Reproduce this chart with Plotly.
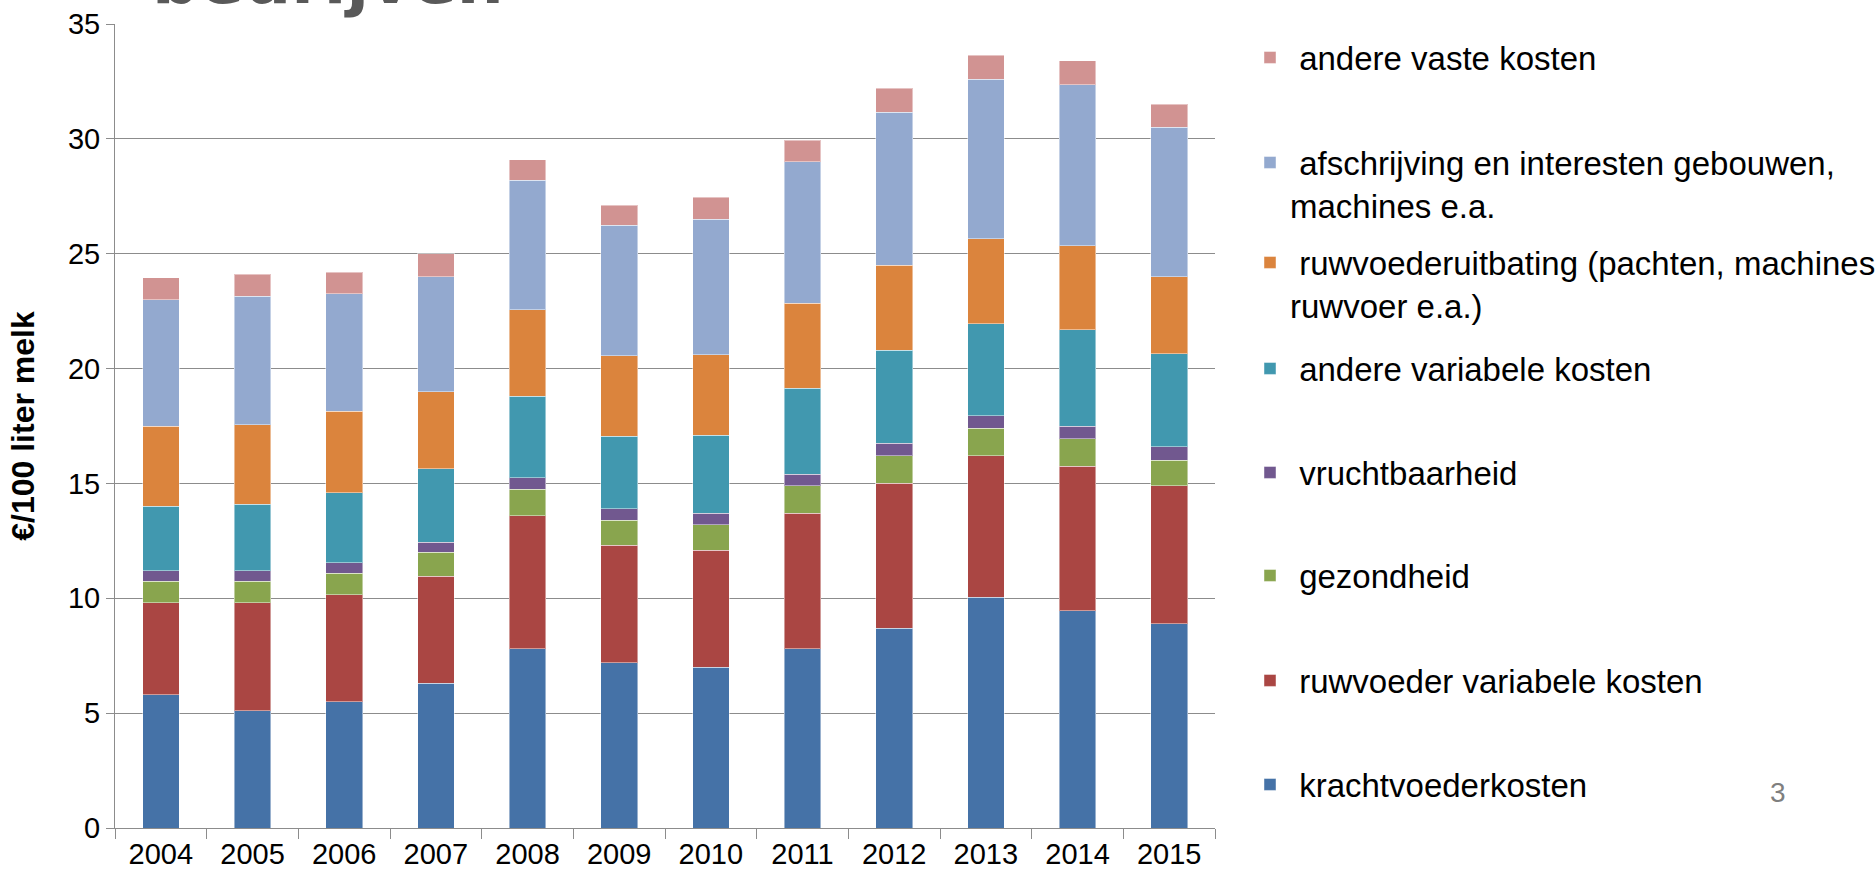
import plotly.graph_objects as go

years = ['2004', '2005', '2006', '2007', '2008', '2009', '2010', '2011', '2012', '2013', '2014', '2015']

krachtvoederkosten = [5.8, 5.1, 5.5, 6.3, 7.8, 7.2, 7.0, 7.8, 8.7, 10.05, 9.45, 8.9]
ruwvoeder_variabel = [4.0, 4.7, 4.65, 4.65, 5.8, 5.1, 5.1, 5.9, 6.3, 6.15, 6.3, 6.0]
gezondheid = [0.95, 0.95, 0.95, 1.05, 1.15, 1.1, 1.1, 1.2, 1.2, 1.2, 1.2, 1.1]
vruchtbaarheid = [0.45, 0.45, 0.45, 0.45, 0.5, 0.5, 0.5, 0.5, 0.55, 0.55, 0.55, 0.6]
andere_variabel = [2.8, 2.9, 3.05, 3.2, 3.55, 3.15, 3.4, 3.75, 4.05, 4.0, 4.2, 4.05]
ruwvoederuitbating = [3.5, 3.45, 3.55, 3.35, 3.75, 3.5, 3.5, 3.7, 3.7, 3.7, 3.65, 3.35]
afschrijving = [5.5, 5.6, 5.1, 5.0, 5.65, 5.7, 5.9, 6.15, 6.65, 6.95, 7.0, 6.5]
andere_vast = [0.95, 0.95, 0.95, 1.0, 0.9, 0.85, 0.95, 0.95, 1.05, 1.05, 1.05, 1.0]

series_names = [
    'krachtvoederkosten',
    'ruwvoeder variabele kosten',
    'gezondheid',
    'vruchtbaarheid',
    'andere variabele kosten',
    'ruwvoederuitbating (pachten, machines<br>ruwvoer e.a.)',
    'afschrijving en interesten gebouwen,<br>machines e.a.',
    'andere vaste kosten',
]
series_values = [krachtvoederkosten, ruwvoeder_variabel, gezondheid, vruchtbaarheid,
                 andere_variabel, ruwvoederuitbating, afschrijving, andere_vast]
colors = ['#4572A7', '#AA4643', '#89A54E', '#71588F', '#4198AF', '#DB843D', '#93A9CF', '#D19392']

W, H = 1875, 880
L, R, T, B = 115, 660, 24, 52
plot_h = H - T - B
plot_w = W - L - R

FONT = 'Liberation Sans, Arial, sans-serif'

fig = go.Figure()
# legend marker centres (pixels from top), bottom series first
legend_centres = [786, 682, 577, 474, 370, 264, 164, 59]
off = 29.5
layout_legends = {}
for i, (name, vals, col) in enumerate(zip(series_names, series_values, colors)):
    lname = 'legend' if i == 0 else f'legend{i + 1}'
    fig.add_trace(go.Bar(
        x=years, y=vals, name='\u00a0' + name, legend=lname,
        marker=dict(color=col, line=dict(width=1, color='rgba(255,255,255,0.45)')),
    ))
    ypx = legend_centres[i] - off
    layout_legends[lname] = dict(
        x=(1250 - L) / plot_w, xanchor='left',
        y=(H - B - ypx) / plot_h, yanchor='top',
        font=dict(family=FONT, size=33, color='#000000'),
        bgcolor='rgba(0,0,0,0)', valign='top', borderwidth=0,
    )

fig.update_layout(
    barmode='stack',
    bargap=0.6,
    width=W, height=H,
    margin=dict(l=L, r=R, t=T, b=B, pad=0, autoexpand=False),
    paper_bgcolor='white', plot_bgcolor='white',
    font=dict(family=FONT, color='#000000'),
    showlegend=True,
    **layout_legends,
)

axis_col = '#8c8c8c'
fig.update_yaxes(
    range=[0, 35], dtick=5, tick0=0,
    showgrid=True, gridcolor=axis_col, gridwidth=1,
    showline=True, linecolor=axis_col, linewidth=1,
    ticks='outside', ticklen=8, tickcolor=axis_col,
    zeroline=False,
    tickfont=dict(family=FONT, size=29, color='#000000'),
    title=dict(text='<b>€/100 liter melk</b>', font=dict(family=FONT, size=32, color='#000000'), standoff=23),
)
fig.update_xaxes(
    type='category',
    showline=True, linecolor=axis_col, linewidth=1,
    ticks='outside', tickson='boundaries', ticklen=10, tickcolor=axis_col,
    showgrid=False,
    tickfont=dict(family=FONT, size=29, color='#000000'),
)

# cut-off slide title at the top edge
fig.add_annotation(
    text='<b>bedrijven</b>', xref='paper', yref='paper',
    x=(328 - L) / plot_w, xanchor='center',
    y=(H - B - 21) / plot_h, yanchor='bottom',
    showarrow=False,
    font=dict(family='DejaVu Sans, sans-serif', size=66, color='#595959'),
)
# slide number
fig.add_annotation(
    text='3', xref='paper', yref='paper',
    x=(1778 - L) / plot_w, xanchor='center',
    y=(H - B - 792) / plot_h, yanchor='middle',
    showarrow=False,
    font=dict(family=FONT, size=28, color='#7f7f7f'),
)

fig.write_html('out.html', config={'displayModeBar': False},
               post_script="document.body.style.margin='0';")
